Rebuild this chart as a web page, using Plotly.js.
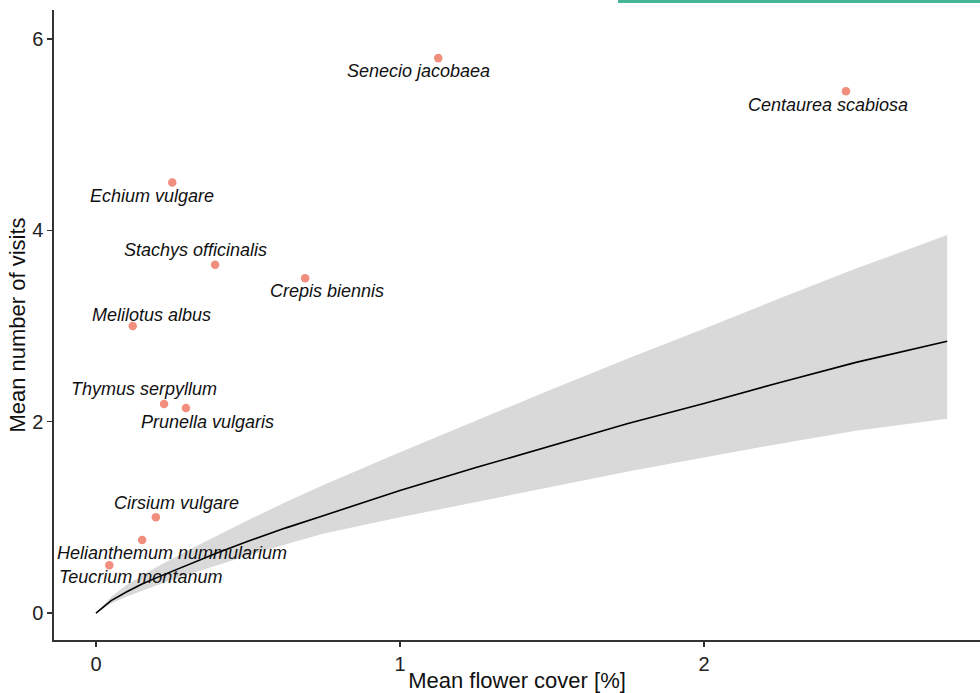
<!DOCTYPE html>
<html>
<head>
<meta charset="utf-8">
<script src="https://cdn.plot.ly/plotly-3.0.1.min.js"></script>
<style>
  html, body { margin: 0; padding: 0; background: #fff; }
  #chart { width: 980px; height: 693px; }
</style>
</head>
<body>
<div id="chart"></div>
<script>
// Species data
const species = [
  "Senecio jacobaea", "Centaurea scabiosa", "Echium vulgare", "Stachys officinalis",
  "Crepis biennis", "Melilotus albus", "Thymus serpyllum", "Prunella vulgaris",
  "Cirsium vulgare", "Helianthemum nummularium", "Teucrium montanum"
];
const flowerCover = [1.126, 2.467, 0.251, 0.392, 0.688, 0.121, 0.224, 0.296, 0.197, 0.152, 0.044];
const visits      = [5.80, 5.455, 4.50, 3.64, 3.50, 3.00, 2.185, 2.143, 1.00, 0.763, 0.50];

// Fitted curve and confidence band
const fitX     = [0, 0.025, 0.05, 0.1, 0.15, 0.2, 0.3, 0.4, 0.5, 0.625, 0.75, 1.0, 1.25, 1.5, 1.75, 2.0, 2.25, 2.5, 2.8];
const fitY     = [0, 0.07, 0.13, 0.22, 0.30, 0.37, 0.50, 0.63, 0.75, 0.89, 1.02, 1.28, 1.52, 1.75, 1.98, 2.19, 2.41, 2.62, 2.84];
const fitUpper = [0, 0.09, 0.17, 0.29, 0.39, 0.48, 0.65, 0.81, 0.97, 1.16, 1.34, 1.68, 2.01, 2.34, 2.66, 2.97, 3.29, 3.60, 3.95];
const fitLower = [0, 0.05, 0.10, 0.17, 0.23, 0.29, 0.40, 0.50, 0.60, 0.72, 0.83, 1.00, 1.16, 1.32, 1.48, 1.625, 1.77, 1.905, 2.03];

// Label offsets (pixels, styling only)
const labelDX = [-20, -18, -20, -20, 22, 19, -20, 22, 21, 30, 31];
const labelDY = [-13, -14, -13, 15, -13, 11, 15, -14, 14, -13, -12];

const xTicks = [0, 1, 2];
const yTicks = [0, 2, 4, 6];

const traces = [
  {
    x: fitX.concat(fitX.slice().reverse()),
    y: fitUpper.concat(fitLower.slice().reverse()),
    type: 'scatter', mode: 'lines',
    fill: 'toself', fillcolor: '#D9D9D9',
    line: { width: 0, color: 'rgba(0,0,0,0)' },
    hoverinfo: 'skip', showlegend: false
  },
  {
    x: fitX, y: fitY,
    type: 'scatter', mode: 'lines',
    line: { color: '#000000', width: 1.6 },
    showlegend: false
  },
  {
    x: flowerCover, y: visits, text: species,
    type: 'scatter', mode: 'markers',
    marker: { color: '#F18E7E', size: 8.5, line: { width: 0 } },
    showlegend: false
  }
];

const annotations = species.map((s, i) => ({
  x: flowerCover[i], y: visits[i], xref: 'x', yref: 'y',
  text: '<i>' + s + '</i>', showarrow: false,
  xanchor: 'center', yanchor: 'middle',
  xshift: labelDX[i], yshift: labelDY[i],
  font: { family: 'Liberation Sans, Arial, sans-serif', size: 18, color: '#111111' }
}));

const layout = {
  width: 980, height: 693,
  margin: { l: 54, r: 0, t: 10, b: 53 },
  paper_bgcolor: '#ffffff', plot_bgcolor: '#ffffff',
  font: { family: 'Liberation Sans, Arial, sans-serif', color: '#222222' },
  xaxis: {
    range: [-0.138, 2.908],
    tickvals: xTicks, ticktext: xTicks.map(String),
    showgrid: false, zeroline: false,
    showline: true, linecolor: '#333333', linewidth: 1.6,
    ticks: 'outside', ticklen: 5, tickwidth: 1.3, tickcolor: '#333333',
    tickfont: { size: 20, color: '#222222' },
    title: { text: 'Mean flower cover [%]', font: { size: 22, color: '#111111' }, standoff: 5 }
  },
  yaxis: {
    range: [-0.282, 6.303],
    tickvals: yTicks, ticktext: yTicks.map(String),
    showgrid: false, zeroline: false,
    showline: true, linecolor: '#333333', linewidth: 1.6,
    ticks: 'outside', ticklen: 5, tickwidth: 1.3, tickcolor: '#333333',
    tickfont: { size: 20, color: '#222222' },
    title: { text: 'Mean number of visits', font: { size: 22, color: '#111111' }, standoff: 0 }
  },
  annotations: annotations,
  shapes: [{
    type: 'rect', xref: 'paper', yref: 'paper',
    x0: (618 - 54) / 926, x1: 1.0,
    y0: 1 + 7 / 630, y1: 1 + 10 / 630,
    fillcolor: '#45B596', line: { width: 0 }
  }]
};

Plotly.newPlot('chart', traces, layout, { displayModeBar: false, staticPlot: true });
</script>
</body>
</html>
